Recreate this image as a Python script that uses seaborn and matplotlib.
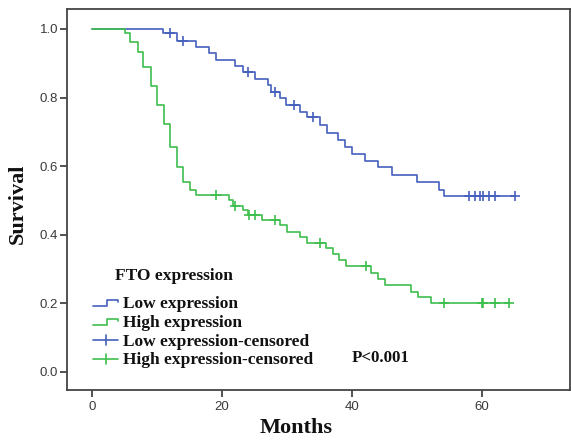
import numpy as np
import pandas as pd
import matplotlib
matplotlib.use("Agg")
import matplotlib.pyplot as plt
import seaborn as sns

# ---------------- data ----------------
low_times = [0, 10.9, 13.0, 16.0, 18.0, 19.1, 22.0, 23.2, 25.1, 27.1, 27.5, 28.9,
             29.9, 32.0, 33.0, 35.1, 36.1, 37.9, 38.9, 40.0, 42.0, 44.0, 46.1,
             50.0, 53.3, 54.1, 65.1]
low_surv = [1.0, 0.987, 0.966, 0.948, 0.929, 0.910, 0.892, 0.875, 0.855, 0.837,
            0.817, 0.798, 0.778, 0.759, 0.742, 0.720, 0.696, 0.676, 0.657, 0.636,
            0.616, 0.597, 0.574, 0.554, 0.531, 0.513, 0.513]
low_censored = [12.0, 14.0, 24.0, 28.2, 31.0, 34.0, 57.9, 58.9, 59.7, 60.1,
                61.0, 62.0, 65.1]

high_times = [0, 5.1, 5.85, 7.0, 7.9, 9.0, 10.05, 11.1, 12.0, 13.0, 14.0, 15.1,
              16.0, 21.0, 21.7, 23.2, 24.0, 26.1, 28.9, 29.95, 32.0, 33.0, 36.0,
              37.0, 38.0, 39.0, 42.9, 44.0, 45.1, 49.1, 50.1, 52.2, 64.0]
high_surv = [1.0, 0.987, 0.963, 0.934, 0.890, 0.834, 0.778, 0.723, 0.657, 0.598,
             0.555, 0.531, 0.516, 0.501, 0.484, 0.472, 0.458, 0.443, 0.427, 0.409,
             0.394, 0.377, 0.360, 0.344, 0.327, 0.310, 0.289, 0.271, 0.254, 0.234,
             0.218, 0.200, 0.200]
high_censored = [19.1, 22.0, 24.2, 25.1, 28.2, 35.1, 42.15, 54.05, 59.9, 60.1,
                 62.0, 64.05]

groups = ["Low expression", "High expression"]
legend_labels = ["Low expression", "High expression",
                 "Low expression-censored", "High expression-censored"]
x_ticks = [0, 20, 40, 60]
y_ticks = [0.0, 0.2, 0.4, 0.6, 0.8, 1.0]
colors = {"Low expression": "#4560bd", "High expression": "#3dbf4d"}

# ---------------- frames ----------------
curve_df = pd.concat([
    pd.DataFrame({"Months": low_times, "Survival": low_surv, "group": groups[0]}),
    pd.DataFrame({"Months": high_times, "Survival": high_surv, "group": groups[1]}),
], ignore_index=True)


def surv_at(times, surv, t):
    idx = np.searchsorted(np.asarray(times), t, side="right") - 1
    return np.asarray(surv)[idx]


cens_df = pd.concat([
    pd.DataFrame({"Months": low_censored,
                  "Survival": surv_at(low_times, low_surv, low_censored),
                  "group": groups[0]}),
    pd.DataFrame({"Months": high_censored,
                  "Survival": surv_at(high_times, high_surv, high_censored),
                  "group": groups[1]}),
], ignore_index=True)

# ---------------- figure ----------------
sns.set_theme(style="white")
plt.rcParams["font.family"] = ["Liberation Serif", "DejaVu Serif"]

W, H = 571, 442
fig = plt.figure(figsize=(W / 100, H / 100), dpi=100)
ax = fig.add_axes([67 / W, (H - 390) / H, 503 / W, 381 / H])

for g in groups:
    sub = curve_df[curve_df.group == g]
    sns.lineplot(data=sub, x="Months", y="Survival", drawstyle="steps-post",
                 estimator=None, sort=False, color=colors[g], linewidth=1.2,
                 ax=ax, legend=False)
    csub = cens_df[cens_df.group == g]
    sns.scatterplot(data=csub, x="Months", y="Survival", marker="+", s=55,
                    color=colors[g], linewidth=1.2, ax=ax, legend=False, zorder=3)

ax.set_xlim(-3.85, 73.5)
ax.set_ylim(-0.0525, 1.058)
ax.set_xticks(x_ticks)
ax.set_yticks(y_ticks)
ax.set_xticklabels([str(t) for t in x_ticks])
ax.set_yticklabels([f"{t:.1f}" for t in y_ticks])

for sp in ax.spines.values():
    sp.set_visible(True)
    sp.set_color("#444444")
    sp.set_linewidth(1.3)

ax.tick_params(axis="both", direction="out", length=5.2, width=1.3,
               color="#444444", labelcolor="#3a3a3a", left=True, bottom=True)
ax.tick_params(axis="y", pad=1.2)
ax.tick_params(axis="x", pad=3.0)
for lab in ax.get_xticklabels() + ax.get_yticklabels():
    lab.set_fontfamily(["Liberation Sans", "DejaVu Sans"])
    lab.set_fontsize(9.5)

ax.set_xlabel("Months", fontsize=16, fontweight="bold", color="#111111",
              va="center")
ax.set_ylabel("Survival", fontsize=16, fontweight="bold", color="#111111",
              va="center")
ax.xaxis.set_label_coords((296 - 67) / 503, (390 - 428) / 381)
ax.yaxis.set_label_coords((18 - 67) / 503, (390 - 204) / 381)


# ---------------- manual legend (SPSS style) ----------------
def P(px, py):
    return px / W, 1 - py / H


tf = fig.transFigure
leg_fs = 12.5
fig.text(*P(115, 280), "FTO expression", fontsize=leg_fs, fontweight="bold",
         ha="left", va="baseline", color="#111111")

baselines = [308, 327, 345.5, 364]
# step-shaped handles
for g, yb, txt in zip(groups, baselines[:2], legend_labels[:2]):
    yc = yb - 4.5
    xs = [93, 106.5, 106.5, 117.5, 117.5]
    ys = [yc + 2.5, yc + 2.5, yc - 4, yc - 4, yc - 1.5]
    fx, fy = zip(*[P(x, y) for x, y in zip(xs, ys)])
    fig.add_artist(plt.Line2D(fx, fy, transform=tf, color=colors[g], lw=1.2))
# cross handles
for g, yb in zip(groups, baselines[2:]):
    yc = yb - 5.5
    fx, fy = zip(P(93, yc), P(117.5, yc))
    fig.add_artist(plt.Line2D(fx, fy, transform=tf, color=colors[g], lw=1.2))
    fx, fy = zip(P(105.5, yc - 5), P(105.5, yc + 5))
    fig.add_artist(plt.Line2D(fx, fy, transform=tf, color=colors[g], lw=1.2))

for yb, txt in zip(baselines, legend_labels):
    fig.text(*P(123, yb), txt, fontsize=leg_fs, fontweight="bold",
             ha="left", va="baseline", color="#111111")

fig.text(*P(351.5, 362), "P<0.001", fontsize=12.2, fontweight="bold",
         ha="left", va="baseline", color="#111111")

fig.savefig("out.png", dpi=100)
